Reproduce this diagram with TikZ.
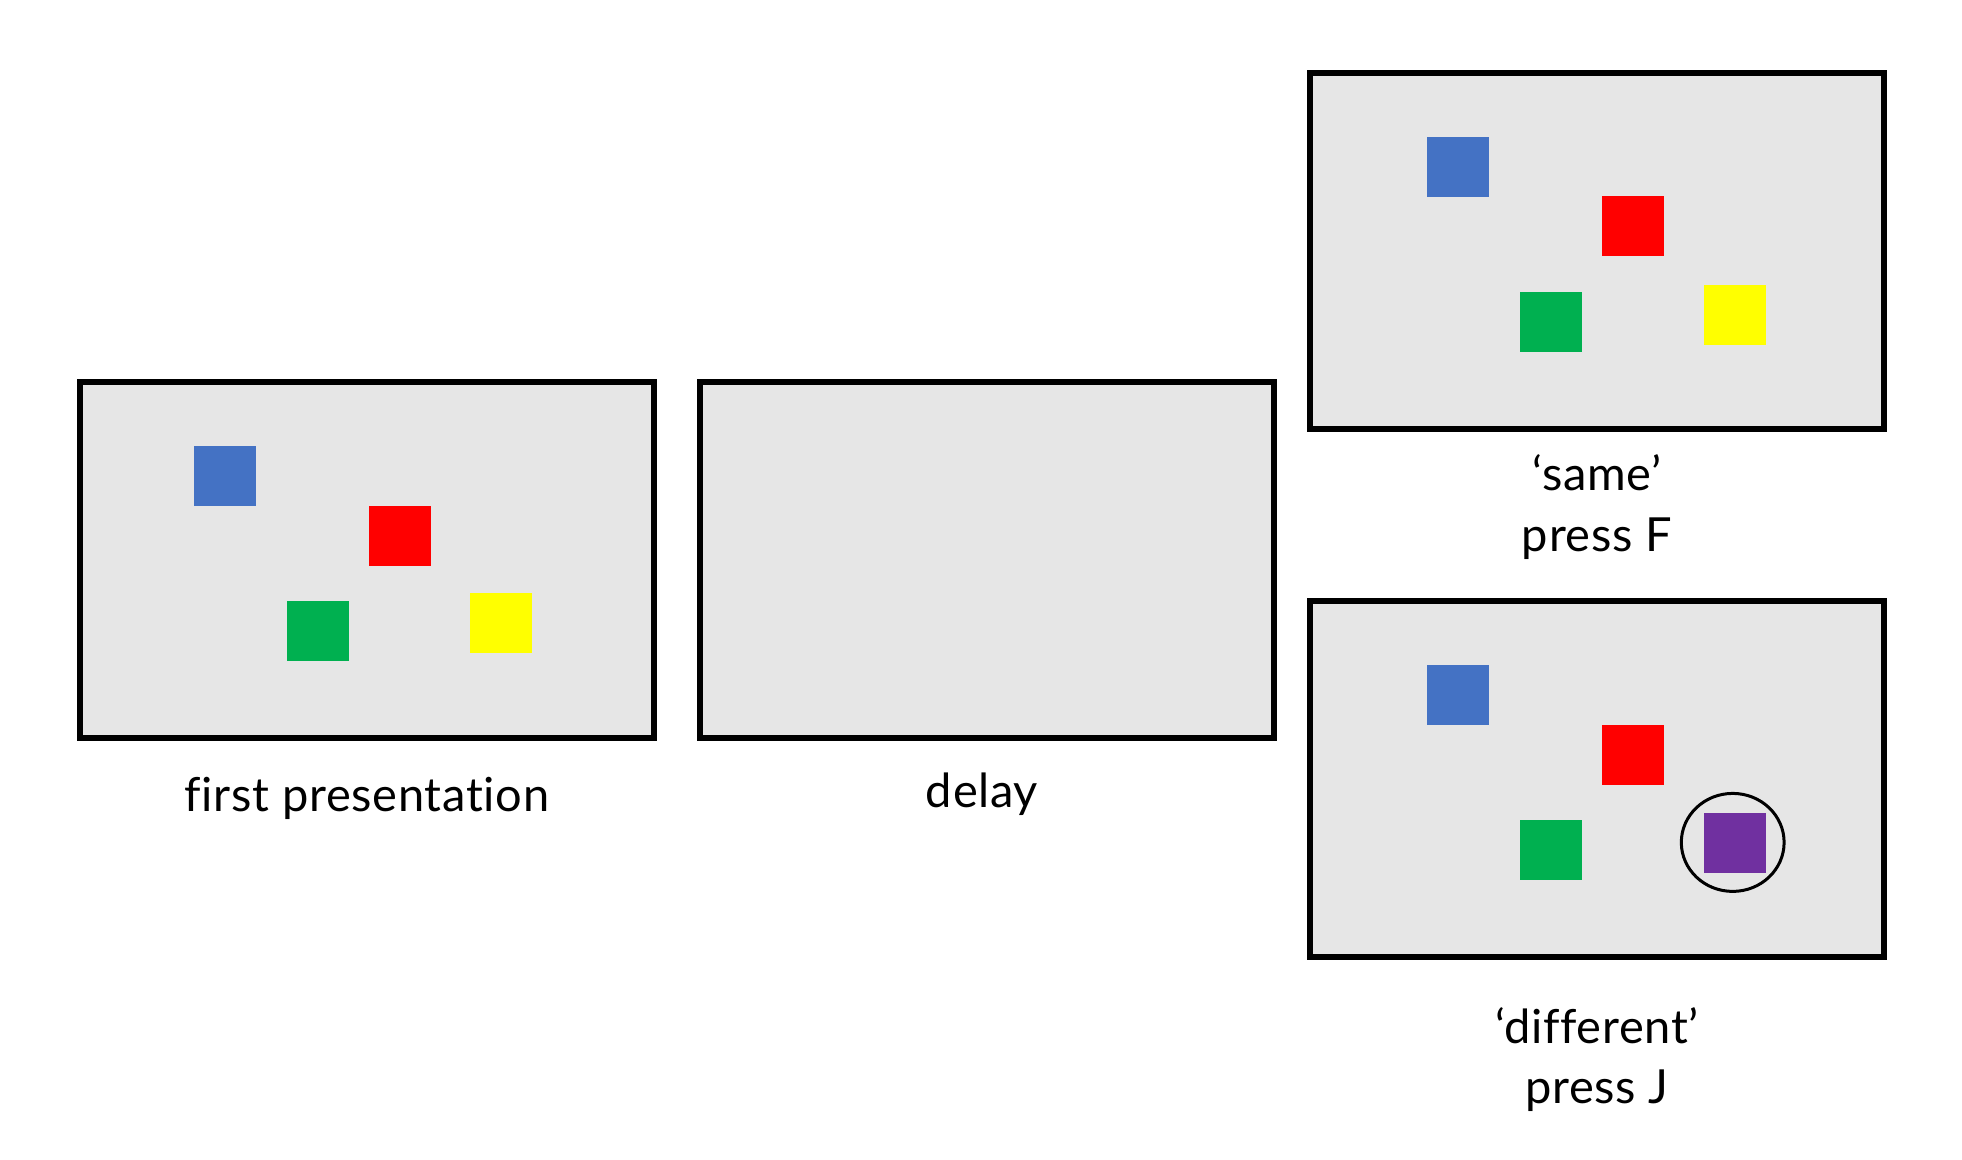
\documentclass[tikz,border=0pt]{standalone}
\usepackage{fontspec}
\setmainfont{Lato}[Ligatures={NoCommon}, LetterSpace=1.5]
\usetikzlibrary{shapes.geometric}
\definecolor{scrgray}{HTML}{E6E6E6}
\definecolor{sqblue}{HTML}{4472C4}
\definecolor{sqred}{HTML}{FF0000}
\definecolor{sqgreen}{HTML}{00B050}
\definecolor{sqyellow}{HTML}{FFFF00}
\definecolor{sqpurple}{HTML}{7030A0}
\begin{document}
\begin{tikzpicture}[x=0.5pt,y=-0.5pt,
  screen/.style={draw=black, line width=3pt, fill=scrgray, minimum width=287pt, minimum height=178pt, inner sep=0pt},
  sq/.style={inner sep=0pt, minimum width=31pt, minimum height=30pt},
  lbl/.style={font=\fontsize{23.5pt}{28pt}\selectfont, anchor=base, inner sep=0pt},
  mark ring/.style={draw=black, ellipse, line width=1.5pt, minimum width=51.4pt, minimum height=49pt, inner sep=0pt}]
\useasboundingbox (0,0) rectangle (1962,1160);

% screens
\node[screen] (first) at (367,560) {};
\node[screen] (delay) at (986.5,560) {};
\node[screen] (same) at (1597,251) {};
\node[screen] (diff) at (1597,779) {};

% first presentation squares
\node[sq, fill=sqblue]   (f1) at (225,476) {};
\node[sq, fill=sqred]    (f2) at (400,536) {};
\node[sq, fill=sqgreen]  (f3) at (317.5,631) {};
\node[sq, fill=sqyellow] (f4) at (501,623) {};

% same squares
\node[sq, fill=sqblue]   (s1) at (1457.8,166.8) {};
\node[sq, fill=sqred]    (s2) at (1633.3,226.5) {};
\node[sq, fill=sqgreen]  (s3) at (1550.9,321.9) {};
\node[sq, fill=sqyellow] (s4) at (1734.7,314.7) {};

% different squares
\node[sq, fill=sqblue]   (d1) at (1457.8,694.8) {};
\node[sq, fill=sqred]    (d2) at (1633.3,754.5) {};
\node[sq, fill=sqgreen]  (d3) at (1550.9,849.9) {};
\node[sq, fill=sqpurple] (d4) at (1734.7,842.6) {};
\node[mark ring] (ring) at (1732.7,842.4) {};

% labels
\node[lbl] (lfirst) at (367,811) {first presentation};
\node[lbl] (ldelay) at (982,807) {delay};
\node[lbl] (lsame1) at (1597,490.7) {‘same’};
\node[lbl] (lsame2) at (1597,551.6) {press F};
\node[lbl] (ldiff1) at (1597,1043.5) {‘different’};
\node[lbl] (ldiff2) at (1597,1103) {press J};
\end{tikzpicture}
\end{document}
